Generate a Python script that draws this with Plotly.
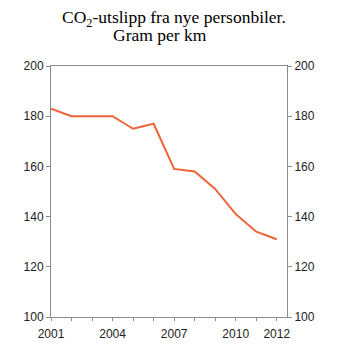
import plotly.graph_objects as go

years = [2001, 2002, 2003, 2004, 2005, 2006, 2007, 2008, 2009, 2010, 2011, 2012]
co2 = [183, 180, 180, 180, 175, 177, 159, 158, 151, 141, 134, 131]
tick_labels = ["2001", "", "", "2004", "", "", "2007", "", "", "2010", "", "2012"]
y_ticks = [100, 120, 140, 160, 180, 200]
title_line1 = "CO<sub>2</sub>-utslipp fra nye personbiler."
title_line2 = "Gram per km"

axis_color = "#8c8c8c"
tick_font = dict(family="Liberation Sans, Arial, sans-serif", size=12, color="#222222")
title_font = dict(family="Liberation Serif, Times New Roman, serif", size=17.5, color="black")

fig = go.Figure()
fig.add_trace(go.Scatter(x=years, y=co2, mode="lines",
                         line=dict(color="#F0643A", width=2), showlegend=False,
                         hoverinfo="skip"))
fig.add_trace(go.Scatter(x=years, y=co2, mode="lines", yaxis="y2",
                         line=dict(color="rgba(0,0,0,0)", width=0), showlegend=False,
                         hoverinfo="skip"))

fig.add_annotation(text=title_line1, xref="paper", yref="paper", x=0.521, y=1.19,
                   xanchor="center", yanchor="middle", showarrow=False, font=title_font)
fig.add_annotation(text=title_line2, xref="paper", yref="paper", x=0.462, y=1.125,
                   xanchor="center", yanchor="middle", showarrow=False, font=title_font)

fig.update_layout(
    width=355, height=356,
    margin=dict(l=51, r=68, t=66, b=39),
    paper_bgcolor="white", plot_bgcolor="white",
    xaxis=dict(range=[2001, 2012.5], tickvals=years, ticktext=tick_labels,
               showline=True, linecolor=axis_color, linewidth=1, mirror=True,
               ticks="outside", ticklen=3, tickcolor=axis_color, ticklabelstandoff=3,
               showgrid=False, zeroline=False, tickfont=tick_font),
    yaxis=dict(range=[100, 200], tickvals=y_ticks,
               showline=True, linecolor=axis_color, linewidth=1,
               ticks="outside", ticklen=4, tickcolor=axis_color,
               showgrid=False, zeroline=False, tickfont=tick_font),
    yaxis2=dict(range=[100, 200], tickvals=y_ticks, overlaying="y", side="right",
                showline=True, linecolor=axis_color, linewidth=1,
                ticks="outside", ticklen=4, tickcolor=axis_color,
                showgrid=False, zeroline=False, tickfont=tick_font),
)

fig.write_html("out.html", config={"displayModeBar": False},
               post_script="document.body.style.margin='0';")
